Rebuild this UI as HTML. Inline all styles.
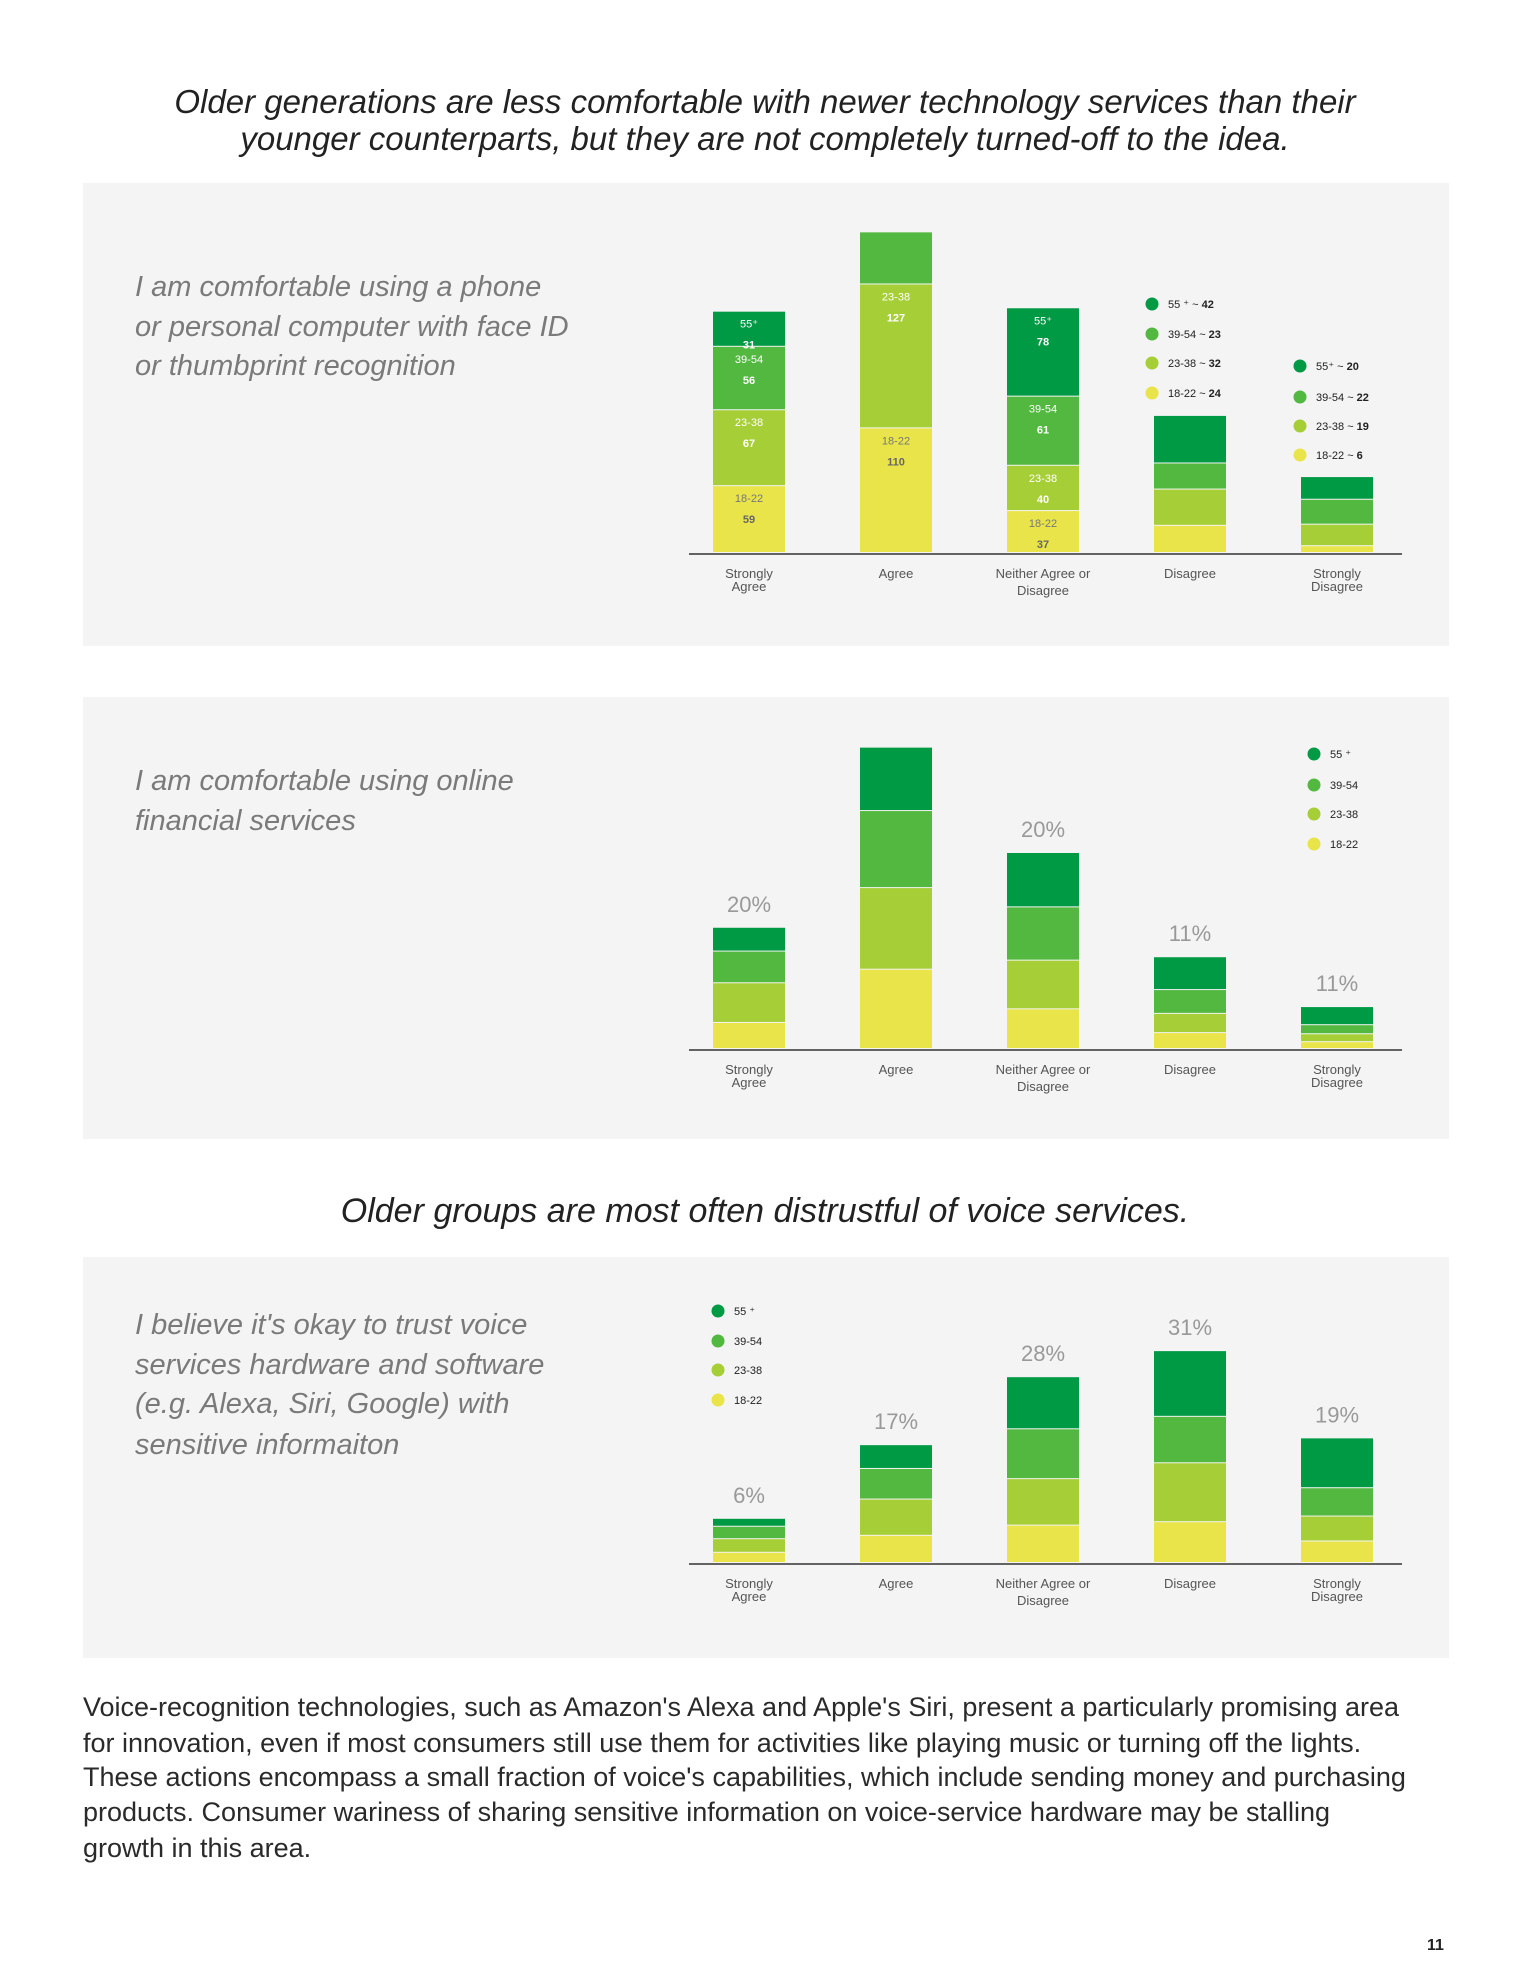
<!DOCTYPE html>
<html><head><meta charset="utf-8">
<style>
body{margin:0;background:#fff;}
#page{position:relative;width:1530px;height:1980px;overflow:hidden;background:#fff;font-family:"Liberation Sans",sans-serif;}
.t{position:absolute;white-space:nowrap;}
.title{font-style:italic;font-size:33px;color:#222;width:1530px;text-align:center;left:0;}
.q{font-style:italic;font-size:29px;color:#7a7a7a;left:135px;font-weight:300;}
.body{font-size:27px;color:#2a2a2a;left:83px;}
svg{position:absolute;left:0;top:0;}
</style></head><body>
<div id="page">
<svg id="chart" width="1530" height="1980"></svg>
<div class="t title" style="top:83px">Older generations are less comfortable with newer technology services than their</div>
<div class="t title" style="top:120px">younger counterparts, but they are not completely turned-off to the idea.</div>
<div class="t q" style="top:271px">I am comfortable using a phone</div>
<div class="t q" style="top:311px">or personal computer with face ID</div>
<div class="t q" style="top:350px">or thumbprint recognition</div>
<div class="t q" style="top:765px">I am comfortable using online</div>
<div class="t q" style="top:805px">financial services</div>
<div class="t title" style="top:1192px;font-size:34px">Older groups are most often distrustful of voice services.</div>
<div class="t q" style="top:1309px">I believe it's okay to trust voice</div>
<div class="t q" style="top:1349px">services hardware and software</div>
<div class="t q" style="top:1388px">(e.g. Alexa, Siri, Google) with</div>
<div class="t q" style="top:1429px">sensitive informaiton</div>
<div class="t body" style="top:1692px">Voice-recognition technologies, such as Amazon's Alexa and Apple's Siri, present a particularly promising area</div>
<div class="t body" style="top:1728px">for innovation, even if most consumers still use them for activities like playing music or turning off the lights.</div>
<div class="t body" style="top:1762px">These actions encompass a small fraction of voice's capabilities, which include sending money and purchasing</div>
<div class="t body" style="top:1797px">products. Consumer wariness of sharing sensitive information on voice-service hardware may be stalling</div>
<div class="t body" style="top:1833px">growth in this area.</div>
<div class="t" style="top:1937px;left:1427px;font-size:16px;font-weight:bold;color:#222">11</div>
</div>
<script>
const categories = ["Strongly Agree","Agree","Neither Agree or Disagree","Disagree","Strongly Disagree"];
const catLines = [["Strongly","Agree"],["Agree"],["Neither Agree or","Disagree"],["Disagree"],["Strongly","Disagree"]];
const groups = ["18-22","23-38","39-54","55+"];
const c1_18 = [59,110,37,24,6];
const c1_23 = [67,127,40,32,19];
const c1_39 = [56,46,61,23,22];
const c1_55 = [31,0,78,42,20];
const c2_18 = [23,70,35,14,6];
const c2_23 = [35,72,43,17,7];
const c2_39 = [28,68,47,21,8];
const c2_55 = [21,56,48,29,16];
const c2_pct = ["20%","","20%","11%","11%"];
const c3_18 = [9,24,33,36,19];
const c3_23 = [12,32,41,52,22];
const c3_39 = [11,27,44,41,25];
const c3_55 = [7,21,46,58,44];
const c3_pct = ["6%","17%","28%","31%","19%"];

const NS="http://www.w3.org/2000/svg";
const svg=document.getElementById('chart');
const colors=["#e9e44a","#a6ce37","#52b83f","#009a44"];
function mk(tag,attrs,parent){const e=document.createElementNS(NS,tag);for(const k in attrs)e.setAttribute(k,attrs[k]);(parent||svg).appendChild(e);return e;}
function txt(x,y,s,attrs,parent){const e=mk('text',Object.assign({x:x,y:y},attrs),parent);e.textContent=s;return e;}
const PXU=1.133;
function xC(i){return 749+i*147;}
function yS(base,v){return base-v*PXU;}

[[183,463],[697,442],[1257,401]].forEach((p,i)=>{
  const r=mk('rect',{x:83,y:p[0],width:1366,height:p[1],fill:"#f4f4f4"});
  
  
});

function drawChart(id,base,series,segLabels,pct){
  const g=mk('g',{});
  
  
  categories.forEach((c,i)=>{
    let cum=0;
    series.forEach((s,k)=>{
      const v=s[i]; if(v<=0) return;
      const y0=yS(base,cum), y1=yS(base,cum+v);
      const r=mk('rect',{x:xC(i)-36,y:y1,width:72,height:Math.max(0,y0-y1-1),fill:colors[k]},g);
      
      
      if(segLabels && segLabels[i] && segLabels[i][k]){
        const fc=k===0?"#777":"#fff";
        const a=txt(xC(i),y1+16,groups[k]==="55+"?"55\u207A":groups[k],{"text-anchor":"middle","font-size":"11","fill":fc},g);
        
        
        const b=txt(xC(i),y1+37,String(v),{"text-anchor":"middle","font-size":"11","font-weight":"bold","fill":k===0?"#666":"#fff"},g);
        
        
      }
      cum+=v;
    });
    if(pct && pct[i]){
      const t=txt(xC(i),yS(base,cum)-16,pct[i],{"text-anchor":"middle","font-size":"22","fill":"#999","font-weight":"300"},g);
      
      
    }
    catLines[i].forEach((ln,j)=>{
      const t=txt(xC(i),base+25+j*(catLines[i].length>1&&i===2?17:13),ln,{"text-anchor":"middle","font-size":"13","fill":"#555"},g);
      
      
    });
  });
  const ax=mk('line',{x1:689,x2:1402,y1:base+1,y2:base+1,stroke:"#333","stroke-width":1.5},g);
  
  
}

const lab1=[[1,1,1,1],[1,1,0,0],[1,1,1,1],null,null];
drawChart(1,553,[c1_18,c1_23,c1_39,c1_55],lab1,null);
drawChart(2,1049,[c2_18,c2_23,c2_39,c2_55],null,c2_pct);
drawChart(3,1563,[c3_18,c3_23,c3_39,c3_55],null,c3_pct);

function legend(x,ys,labels,vals,tx){
  const g=mk('g',{});
  
  
  const cs=[colors[3],colors[2],colors[1],colors[0]];
  ys.forEach((y,k)=>{
    const c=mk('circle',{cx:x,cy:y,r:6.5,fill:cs[k]},g);
    
    
    const t=txt(x+(tx||16),y+4,labels[k],{"font-size":"11","fill":"#222"},g);
    
    
    if(vals){const ts=mk('tspan',{"font-weight":"bold"},t);ts.textContent=' '+vals[k];}
  });
}
legend(1152,[304,334,363,393],["55 \u207A ~","39-54 ~","23-38 ~","18-22 ~"],[c1_55[3],c1_39[3],c1_23[3],c1_18[3]]);
legend(1300,[366,397,426,455],["55\u207A ~","39-54 ~","23-38 ~","18-22 ~"],[c1_55[4],c1_39[4],c1_23[4],c1_18[4]]);
legend(1314,[754,785,814,844],["55 \u207A","39-54","23-38","18-22"],null);
legend(718,[1311,1341,1370,1400],["55 \u207A","39-54","23-38","18-22"],null);
</script>
</body></html>
